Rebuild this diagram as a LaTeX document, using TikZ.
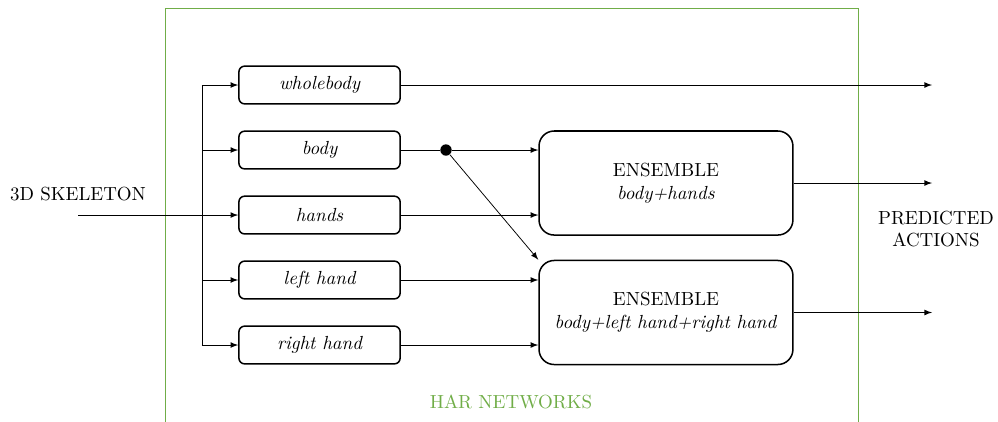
\documentclass[tikz,border=0pt]{standalone}
\usetikzlibrary{arrows}
\definecolor{hargreen}{RGB}{112,173,71}

\tikzset{
  part/.style={draw, thick, rounded corners=3pt, minimum width=2.99cm, minimum height=0.7cm, font=\itshape},
  ensemble/.style={draw, thick, rounded corners=8pt, minimum width=4.71cm, minimum height=1.93cm, align=center},
  flow/.style={-latex},
}

\begin{document}
\begin{tikzpicture}
  \useasboundingbox (0,0) rectangle (18.513,7.81);
  \draw[hargreen] (3.061,-0.3) rectangle (15.916,7.661);
  \node[text=hargreen] (har) at (9.479,0.352) {HAR NETWORKS};

  % body parts
  \node[part] (whole) at (5.927,6.233) {wholebody};
  \node[part] (body)  at (5.927,5.027) {body};
  \node[part] (hands) at (5.927,3.821) {hands};
  \node[part] (left)  at (5.927,2.616) {left hand};
  \node[part] (right) at (5.927,1.410) {right hand};

  % ensembles
  \node[ensemble] (ens1) at (12.354,4.415) {ENSEMBLE\\\textit{body+hands}};
  \node[ensemble] (ens2) at (12.354,2.013) {ENSEMBLE\\\textit{body+left hand+right hand}};

  % input
  \coordinate (in) at (1.447,3.821);
  \coordinate (bus) at (3.747,0);
  \coordinate (out) at (17.289,0);
  \node[above=4pt] (skel) at (in) {3D SKELETON};
  \draw[flow] (in) -- (hands.west);
  \draw (bus |- whole.west) -- (bus |- right.west);
  \foreach \n in {whole,body,left,right}
    \draw[flow] (bus |- \n.west) -- (\n.west);

  \node[circle, fill, inner sep=0pt, minimum size=6pt] (split) at (8.273,5.027) {};
  \draw (body) -- (split);
  \draw[flow] (split) -- (split -| ens1.west);
  \draw[flow] (split) -- (ens2.north west);
  \draw[flow] (hands) -- (hands -| ens1.west);
  \draw[flow] (left) -- (left -| ens2.west);
  \draw[flow] (right) -- (right -| ens2.west);

  % outputs
  \draw[flow] (whole) -- (whole -| out);
  \draw[flow] (ens1) -- (ens1 -| out);
  \draw[flow] (ens2) -- (ens2 -| out);
  \node[align=center] (pred) at (17.363,3.562) {PREDICTED\\ACTIONS};
\end{tikzpicture}
\end{document}
